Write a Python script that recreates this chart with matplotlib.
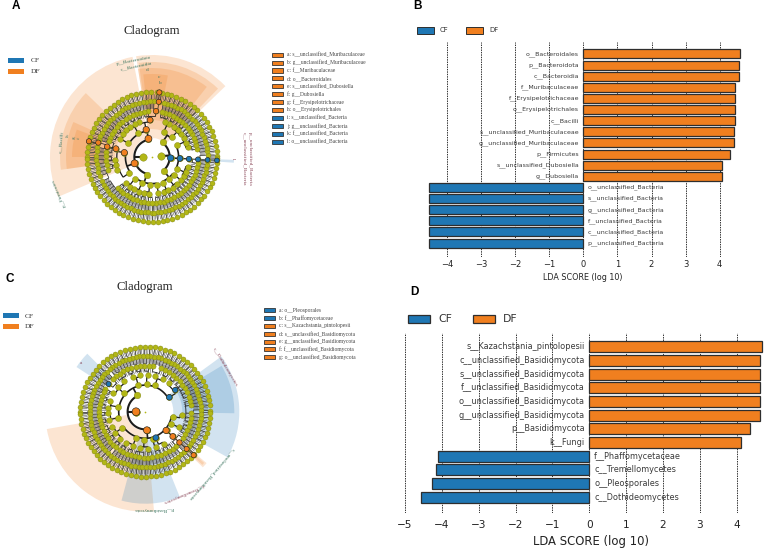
import numpy as np
import matplotlib
matplotlib.use("Agg")
import matplotlib.pyplot as plt
from matplotlib.collections import LineCollection
from matplotlib.patches import Rectangle

W, H = 766, 549
BLUE = "#1f77b4"
ORANGE = "#f07f1f"
OLIVE = "#b2b716"
SERIF = "Liberation Serif"
GREEN_TXT = "#3c7560"
RED_TXT = "#8a4658"

# bacterial LDA scores
taxa_b = ["o__Bacteroidales", "p__Bacteroidota", "c__Bacteroidia", "f__Muribaculaceae",
          "f__Erysipelotrichaceae", "o__Erysipelotrichales", "c__Bacilli",
          "s__unclassified_Muribaculaceae", "g__unclassified_Muribaculaceae",
          "p__Firmicutes", "s__unclassified_Dubosiella", "g__Dubosiella",
          "o__unclassified_Bacteria", "s__unclassified_Bacteria", "g__unclassified_Bacteria",
          "f__unclassified_Bacteria", "c__unclassified_Bacteria", "p__unclassified_Bacteria"]
scores_b = [4.59, 4.575, 4.575, 4.46, 4.44, 4.44, 4.44, 4.43, 4.43, 4.31, 4.06, 4.06,
            -4.52, -4.52, -4.52, -4.52, -4.52, -4.52]
ticks_b = [-4, -3, -2, -1, 0, 1, 2, 3, 4]

# fungal LDA scores
taxa_d = ["s__Kazachstania_pintolopesii", "c__unclassified_Basidiomycota",
          "s__unclassified_Basidiomycota", "f__unclassified_Basidiomycota",
          "o__unclassified_Basidiomycota", "g__unclassified_Basidiomycota",
          "p__Basidiomycota", "k__Fungi", "f__Phaffomycetaceae", "c__Tremellomycetes",
          "o__Pleosporales", "c__Dothideomycetes"]
scores_d = [4.69, 4.64, 4.64, 4.64, 4.64, 4.64, 4.37, 4.11, -4.10, -4.17, -4.26, -4.58]
ticks_d = [-5, -4, -3, -2, -1, 0, 1, 2, 3, 4]

# side keys of the two cladograms
key_a = ["a: s__unclassified_Muribaculaceae", "b: g__unclassified_Muribaculaceae",
         "c: f__Muribaculaceae", "d: o__Bacteroidales", "e: s__unclassified_Dubosiella",
         "f: g__Dubosiella", "g: f__Erysipelotrichaceae", "h: o__Erysipelotrichales",
         "i: s__unclassified_Bacteria", "j: g__unclassified_Bacteria",
         "k: f__unclassified_Bacteria", "l: o__unclassified_Bacteria"]
key_a_colors = [ORANGE] * 8 + [BLUE] * 4
key_c = ["a: o__Pleosporales", "b: f__Phaffomycetaceae", "c: s__Kazachstania_pintolopesii",
         "d: s__unclassified_Basidiomycota", "e: g__unclassified_Basidiomycota",
         "f: f__unclassified_Basidiomycota", "g: o__unclassified_Basidiomycota"]
key_c_colors = [BLUE] * 2 + [ORANGE] * 5

# ring radii in pixels and node diameters, kingdom level outwards
ring_r = [9.3, 18.6, 28, 37, 46, 55.6, 65]
ring_d = [7.4, 6.6, 6.0, 5.6, 5.2, 5.0, 5.0]
ring_lw = [1.5, 1.5, 1.2, 0.9, 0.6, 0.5, 0.5]
arc_frac = [0.9, 0.9, 0.85, 0.8, 0.4, 0.2, 0.2]

# tree nodes per ring: (start deg, end deg, node count)
rings_a = [
    [(180, 180, 1), (5, 5, 1)],
    [(55, 55, 1), (253, 253, 1), (310, 310, 1)],
    [(280, 335, 5), (25, 65, 3), (120, 150, 2), (215, 265, 4)],
    [(280, 345, 9), (15, 70, 8), (110, 150, 6), (185, 200, 3), (225, 265, 6)],
    [(275, 352, 17), (10, 78, 15), (95, 160, 14), (168, 196, 6), (222, 270, 11)],
    [(2, 78, 21), (88, 162, 20), (170, 200, 8), (206, 270, 18), (272, 356, 23)],
    [(1, 180, 41), (182, 359, 41)],
]
rings_c = [
    [(180, 180, 1)],
    [(117, 117, 1), (275, 275, 1)],
    [(70, 105, 3), (139, 139, 1), (170, 215, 3), (250, 285, 3), (320, 350, 3)],
    [(50, 110, 6), (125, 175, 5), (182, 250, 7), (262, 300, 4), (335, 355, 2)],
    [(8, 70, 12), (80, 135, 11), (150, 200, 11), (205, 262, 12), (268, 312, 9), (325, 358, 7)],
    [(2, 130, 35), (134, 228, 26), (232, 310, 21), (314, 358, 12)],
    [(1, 180, 41), (182, 359, 41)],
]
# thin branches packed between the outer rings, per tree node
band_density = {4: 2, 5: 3, 6: 3}

# highlighted clades: (ring index, angle)
orange_a = [(1, 200), (2, 171), (3, 167), (4, 167), (5, 165), (6, 166),
            (1, 101), (2, 102), (3, 93), (4, 85), (5, 83), (6, 83.5)]
blue_a = [(1, -3), (2, -3), (3, -3), (4, -3), (5, -3), (6, -3)]
orange_c = [(0, 180), (1, 275), (2, -42), (3, -42), (4, -42), (5, -42), (6, -42)]
blue_c = [(4, 143), (3, 36), (2, 31), (2, -68)]

# shaded clade sectors: (start deg, end deg, inner radius, outer radius, colour)
sectors_a = [
    (101, 203, 19, 102, ORANGE), (136, 188, 37, 92, ORANGE), (156, 188, 46, 86, ORANGE),
    (160, 180, 55, 80, ORANGE), (44, 99, 19, 102, ORANGE), (46, 98, 28, 95, ORANGE),
    (52, 99, 37, 89, ORANGE), (79, 96, 46, 83, ORANGE),
    (-4, -2, 19, 82, BLUE),
]
sectors_c = [
    (190, 275, 19, 100, ORANGE), (255, 292, 28, 92, BLUE), (-29, 36, 28, 94, BLUE),
    (-1, 31, 37, 89, BLUE), (135, 147, 46, 82, BLUE), (-44, -40, 28, 80, ORANGE),
    (-43, -41, 37, 78, ORANGE),
]

# free labels around the cladograms: (text, x px, y px, rotation, colour)
labels_a = [
    ("p__Bacteroidota", 133.7, 61, 11, GREEN_TXT), ("c__Bacteroidia", 136, 66, 12, GREEN_TXT),
    ("d", 147, 70, 0, GREEN_TXT), ("c", 159, 77, 0, GREEN_TXT), ("b", 160, 83, 0, GREEN_TXT),
    ("c__Bacilli", 61, 142, 85, GREEN_TXT), ("h", 68, 136, 85, GREEN_TXT),
    ("g", 74, 138, 85, GREEN_TXT), ("f", 79, 138, 85, GREEN_TXT),
    ("p__Firmicutes", 59, 193, 113, GREEN_TXT), ("l", 233, 159, -90, RED_TXT),
    ("p__unclassified_Bacteria", 250, 159, -90, RED_TXT),
    ("c__unclassified_Bacteria", 244, 159, -90, RED_TXT),
]
labels_c = [
    ("c__Dothideomycetes", 225, 367, -59, RED_TXT), ("a", 81, 363, 0, RED_TXT),
    ("c__unclassified_Basidiomycota", 211, 474, 229, GREEN_TXT),
    ("f__Tremellomycetes", 183, 493, 203, RED_TXT),
    ("p__Basidiomycota", 154, 509, 180, GREEN_TXT),
]

fig = plt.figure(figsize=(W / 100, H / 100), dpi=100)


def put_text(x, y, s, **kw):
    kw.setdefault("ha", "left")
    kw.setdefault("va", "center")
    fig.text(x / W, 1 - y / H, s, **kw)


def swatch(x0, x1, y0, y1, color, edge=None, lw=0.0):
    fig.add_artist(Rectangle((x0 / W, 1 - y1 / H), (x1 - x0) / W, (y1 - y0) / H,
                             transform=fig.transFigure, facecolor=color,
                             edgecolor=edge or color, linewidth=lw))


def draw_cladogram(cx, cy, rings, orange, blue, sectors, r_max=112):
    ax = fig.add_axes([(cx - r_max) / W, 1 - (cy + r_max) / H, 2 * r_max / W, 2 * r_max / H],
                      projection="polar")
    ax.set_ylim(0, r_max)
    ax.axis("off")
    ax.patch.set_alpha(0)

    for a0, a1, r0, r1, col in sectors:
        ax.bar(np.deg2rad((a0 + a1) / 2), r1 - r0, width=np.deg2rad(a1 - a0), bottom=r0,
               color=col, alpha=0.2, linewidth=0, zorder=1)

    # node angles per ring, highlighted nodes take part in the tree too
    angles = []
    for i, spans in enumerate(rings):
        thetas = [t for a0, a1, n in spans for t in np.linspace(a0, a1, n)]
        thetas += [a % 360 for ring, a in orange + blue if ring == i]
        angles.append(np.array(thetas) % 360)

    spokes, widths = [], []
    for i in range(1, len(angles)):
        parents = angles[i - 1]
        gap = ring_r[i] - ring_r[i - 1]
        r_arc = ring_r[i - 1] + arc_frac[i] * gap
        offs = (angles[i][:, None] - parents[None, :] + 180) % 360 - 180
        nearest = np.abs(offs).argmin(axis=1)
        for p, p_angle in enumerate(parents):
            kids = offs[nearest == p, p]
            if len(kids) == 0:
                continue
            # arc joining the siblings, stem back to the parent node
            arc = np.deg2rad(np.linspace(p_angle + min(kids.min(), 0), p_angle + max(kids.max(), 0), 40))
            spokes.append(np.column_stack([arc, np.full(40, r_arc)]))
            widths.append(ring_lw[i])
            t = np.deg2rad(p_angle)
            spokes.append([(t, ring_r[i - 1]), (t, r_arc)])
            widths.append(ring_lw[i])
            for k in kids:
                t = np.deg2rad(p_angle + k)
                spokes.append([(t, r_arc), (t, ring_r[i])])
                widths.append(ring_lw[i])
    ax.add_collection(LineCollection(spokes, colors="#1c1c1c", linewidths=widths, zorder=2))

    fine = []
    for i, per_node in band_density.items():
        for a0, a1, n in rings[i]:
            for t in np.deg2rad(np.linspace(a0, a1, n * per_node)):
                fine.append([(t, ring_r[i - 1] + 2.2), (t, ring_r[i] - 2.2)])
    ax.add_collection(LineCollection(fine, colors="#565656", linewidths=0.4, zorder=2))

    for i, thetas in enumerate(angles):
        size = (ring_d[i] * 0.72) ** 2
        ax.scatter(np.deg2rad(thetas), np.full(len(thetas), ring_r[i]), s=size, color=OLIVE,
                   edgecolors="#7d8212", linewidths=0.3, zorder=3)
    ax.scatter([0], [0], s=1.5, color=OLIVE, linewidths=0, zorder=3)

    for nodes, col, scale in ((orange, ORANGE, 1.05), (blue, BLUE, 0.95)):
        ring_i = [n[0] for n in nodes]
        ax.scatter(np.deg2rad([n[1] for n in nodes]), [ring_r[j] for j in ring_i],
                   s=[(ring_d[j] * 0.72 * scale) ** 2 for j in ring_i], color=col,
                   edgecolors="#222222", linewidths=0.45, zorder=4)


def draw_lda(box, x_zero, unit, y_first, y_step, bar_px, taxa, scores, ticks,
             label_size, tick_size, gap, tick_pad):
    left, right, top, bottom = box
    ax = fig.add_axes([left / W, 1 - bottom / H, (right - left) / W, (bottom - top) / H])
    y = np.arange(len(taxa))
    ax.set_xlim((left - x_zero) / unit, (right - x_zero) / unit)
    ax.set_ylim((bottom - y_first) / y_step, (top - y_first) / y_step)
    colors = [ORANGE if s > 0 else BLUE for s in scores]
    ax.barh(y, scores, height=bar_px / y_step, color=colors, edgecolor="#2e2e2e",
            linewidth=0.9, zorder=3)
    ax.set_xticks(ticks)
    ax.set_yticks([])
    ax.tick_params(axis="x", length=0, labelsize=tick_size, pad=tick_pad, colors="#222222")
    ax.grid(axis="x", linestyle=(0, (1.5, 1)), color="#333333", linewidth=0.7, zorder=1)
    ax.patch.set_alpha(0)
    for side in ax.spines.values():
        side.set_visible(False)
    pad = gap / unit
    for yy, name, s in zip(y, taxa, scores):
        ax.text(-pad if s > 0 else pad, yy, name, ha="right" if s > 0 else "left", va="center",
                fontsize=label_size, color="#3a3a3a", zorder=4)


# panel A
put_text(16, 6, "A", fontsize=8.5, fontweight="bold", family="Liberation Sans", ha="center")
put_text(152, 31, "Cladogram", fontsize=9.2, family=SERIF, ha="center", color="#222222")
draw_cladogram(152, 157, rings_a, orange_a, blue_a, sectors_a)
swatch(8, 24, 58, 63, BLUE)
swatch(8, 24, 69, 74, ORANGE)
put_text(31, 60.5, "CF", fontsize=5.4, family=SERIF, color="#333333")
put_text(31, 71.5, "DF", fontsize=5.4, family=SERIF, color="#333333")
for i, (name, col) in enumerate(zip(key_a, key_a_colors)):
    yy = 54.7 + 7.9 * i
    swatch(271.5, 283, yy - 2, yy + 2, col, "#333333", 0.6)
    put_text(287, yy, name, fontsize=4.0, family=SERIF, color="#444444")
for name, x, y, rot, col in labels_a:
    put_text(x, y, name, fontsize=3.8, family=SERIF, color=col, rotation=rot,
             ha="center", rotation_mode="anchor")

# panel C
put_text(10, 279, "C", fontsize=8.5, fontweight="bold", family="Liberation Sans", ha="center")
put_text(145, 287, "Cladogram", fontsize=9.2, family=SERIF, ha="center", color="#222222")
draw_cladogram(145.3, 411.7, rings_c, orange_c, blue_c, sectors_c)
swatch(3, 19, 313, 318, BLUE)
swatch(3, 19, 324, 329, ORANGE)
put_text(25, 316, "CF", fontsize=5.4, family=SERIF, color="#333333")
put_text(25, 327, "DF", fontsize=5.4, family=SERIF, color="#333333")
for i, (name, col) in enumerate(zip(key_c, key_c_colors)):
    yy = 310.3 + 7.8 * i
    swatch(263.5, 275, yy - 2, yy + 2, col, "#333333", 0.6)
    put_text(279, yy, name, fontsize=4.0, family=SERIF, color="#444444")
for name, x, y, rot, col in labels_c:
    put_text(x, y, name, fontsize=3.8, family=SERIF, color=col, rotation=rot,
             ha="center", rotation_mode="anchor")

# panel B
put_text(418, 6, "B", fontsize=8.5, fontweight="bold", family="Liberation Sans", ha="center")
draw_lda((424, 746, 42, 257), 583.3, 34.1, 54, 11.12, 9, taxa_b, scores_b, ticks_b, 4.5, 6.0, 4.3, 2)
put_text(583, 277, "LDA SCORE (log 10)", fontsize=5.8, ha="center", color="#222222")
swatch(416.7, 434, 27, 34, BLUE, "#2e2e2e", 0.7)
swatch(466, 482.7, 27, 34, ORANGE, "#2e2e2e", 0.7)
put_text(439.7, 30.5, "CF", fontsize=5, color="#333333")
put_text(489, 30.5, "DF", fontsize=5, color="#333333")

# panel D
put_text(414, 292, "D", fontsize=8.5, fontweight="bold", family="Liberation Sans", ha="center")
draw_lda((402, 764, 333.3, 513), 589.3, 36.85, 346.7, 13.67, 11, taxa_d, scores_d, ticks_d, 5.9, 7.6, 4.8, 5)
put_text(591, 541, "LDA SCORE (log 10)", fontsize=8.4, ha="center", color="#222222")
swatch(408, 430, 315, 323.3, BLUE, "#2e2e2e", 0.9)
swatch(472.7, 494.7, 315, 323.3, ORANGE, "#2e2e2e", 0.9)
put_text(438.3, 319, "CF", fontsize=7.8, color="#333333")
put_text(503, 319, "DF", fontsize=7.8, color="#333333")

fig.savefig("out.png", dpi=100)
